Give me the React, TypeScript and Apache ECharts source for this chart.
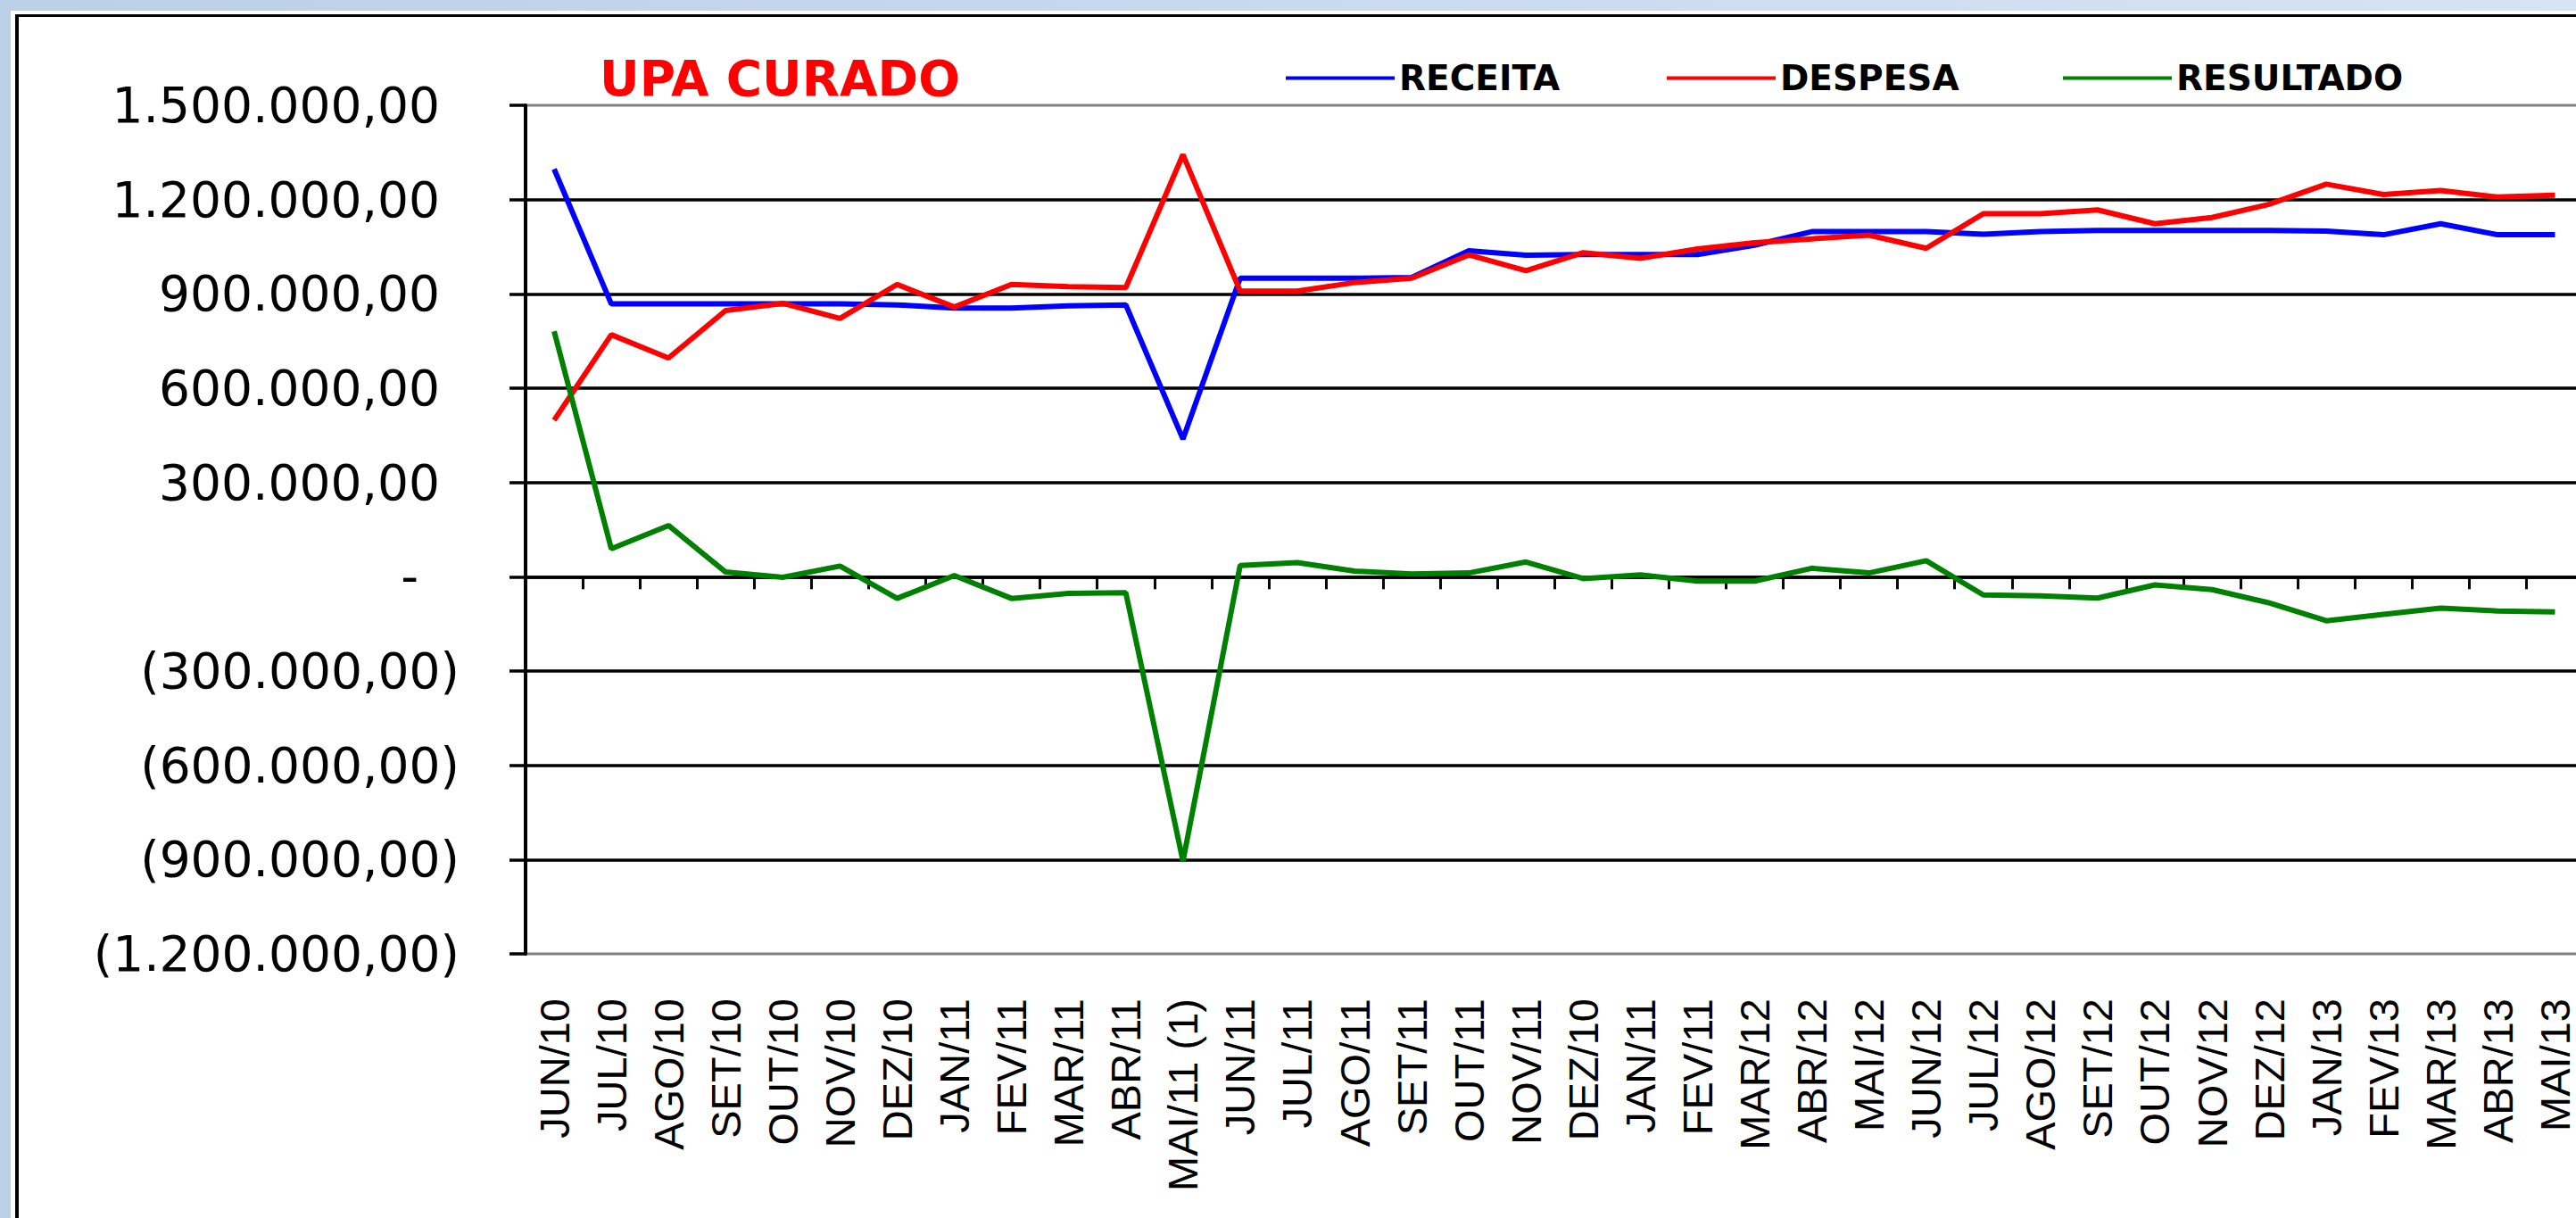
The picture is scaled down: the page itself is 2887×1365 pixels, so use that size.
import React, { useEffect, useRef } from 'react';
import * as echarts from 'echarts';

const categories = [
  'JUN/10', 'JUL/10', 'AGO/10', 'SET/10', 'OUT/10', 'NOV/10', 'DEZ/10', 'JAN/11', 'FEV/11', 'MAR/11',
  'ABR/11', 'MAI/11 (1)', 'JUN/11', 'JUL/11', 'AGO/11', 'SET/11', 'OUT/11', 'NOV/11', 'DEZ/10', 'JAN/11',
  'FEV/11', 'MAR/12', 'ABR/12', 'MAI/12', 'JUN/12', 'JUL/12', 'AGO/12', 'SET/12', 'OUT/12', 'NOV/12',
  'DEZ/12', 'JAN/13', 'FEV/13', 'MAR/13', 'ABR/13', 'MAI/13',
];

const receita = [
  1297000, 868000, 868000, 868000, 868000, 868000, 865000, 855000, 855000, 862000,
  865000, 438000, 950000, 950000, 950000, 952000, 1037000, 1023000, 1025000, 1025000,
  1025000, 1055000, 1098000, 1098000, 1098000, 1090000, 1098000, 1102000, 1102000, 1102000,
  1102000, 1100000, 1088000, 1123000, 1088000, 1088000,
];

const despesa = [
  498000, 770000, 696000, 847000, 870000, 822000, 930000, 858000, 930000, 923000,
  920000, 1343000, 909000, 909000, 936000, 950000, 1024000, 974000, 1031000, 1013000,
  1043000, 1063000, 1075000, 1087000, 1045000, 1155000, 1155000, 1167000, 1123000, 1143000,
  1185000, 1249000, 1216000, 1229000, 1208000, 1214000,
];

const resultado = [
  781000, 89000, 163000, 15000, -2000, 34000, -69000, 4000, -69000, -53000,
  -51000, -905000, 36000, 45000, 18000, 9000, 12000, 47000, -6000, 6000,
  -14000, -14000, 27000, 12000, 51000, -58000, -61000, -68000, -26000, -41000,
  -83000, -140000, -120000, -100000, -109000, -112000,
];

const yMin = -1200000;
const yMax = 1500000;
const yInterval = 300000;

const chartTitle = 'UPA CURADO';
const seriesNames = ['RECEITA', 'DESPESA', 'RESULTADO'];
const seriesColors = ['#0000ff', '#ff0000', '#008000'];
const seriesData = [receita, despesa, resultado];
const legendLefts = [1441, 1868, 2312];

function formatValue(v: number): string {
  if (v === 0) return '{z|-}';
  const a = Math.round(Math.abs(v));
  const s = a.toString().replace(/\B(?=(\d{3})+(?!\d))/g, '.') + ',00';
  return v < 0 ? `{n|(${s})}` : `{p|${s}}`;
}

export default function App() {
  const ref = useRef<HTMLDivElement>(null);

  useEffect(() => {
    if (!ref.current) return;
    const chart = echarts.init(ref.current, undefined, { renderer: 'svg' });
    const yFont = { fontFamily: 'DejaVu Sans', fontSize: 55, color: '#000000' };
    chart.setOption({
      animation: false,
      backgroundColor: 'transparent',
      title: {
        text: chartTitle,
        left: 672,
        top: 60,
        padding: 0,
        textStyle: {
          color: '#ff0000',
          fontFamily: 'DejaVu Sans',
          fontWeight: 'bold',
          fontSize: 55,
        },
      },
      legend: seriesNames.map((name, i) => ({
        data: [name],
        left: legendLefts[i],
        top: 68,
        padding: 0,
        icon: 'rect',
        itemWidth: 122,
        itemHeight: 4,
        textStyle: {
          fontFamily: 'DejaVu Sans',
          fontWeight: 'bold',
          fontSize: 39,
          color: '#000000',
        },
      })),
      grid: {
        left: 589,
        top: 118,
        width: 2306.5,
        height: 951,
        show: true,
        borderColor: '#808080',
        borderWidth: 3,
        backgroundColor: 'transparent',
      },
      xAxis: [
        {
          type: 'category',
          data: categories,
          position: 'bottom',
          boundaryGap: true,
          axisLine: { show: false, onZero: false },
          axisTick: { show: false },
          splitLine: { show: false },
          axisLabel: {
            interval: 0,
            rotate: 90,
            margin: 50,
            fontFamily: 'Liberation Sans',
            fontSize: 47,
            color: '#000000',
          },
        },
        {
          type: 'category',
          data: categories,
          position: 'bottom',
          boundaryGap: true,
          axisLine: { show: true, onZero: true, lineStyle: { color: '#000000', width: 3.5 } },
          axisTick: { show: true, interval: 0, inside: false, length: 14, lineStyle: { color: '#000000', width: 3 } },
          axisLabel: { show: false },
          splitLine: { show: false },
        },
      ],
      yAxis: {
        type: 'value',
        min: yMin,
        max: yMax,
        interval: yInterval,
        axisLine: { show: true, lineStyle: { color: '#000000', width: 4 } },
        axisTick: { show: true, inside: false, length: 18, lineStyle: { color: '#000000', width: 3.5 } },
        splitLine: {
          show: true,
          showMinLine: false,
          showMaxLine: false,
          lineStyle: { color: '#000000', width: 3.5 },
        },
        axisLabel: {
          margin: 74,
          formatter: formatValue,
          ...yFont,
          rich: {
            p: { ...yFont, padding: [0, 22, 0, 0] },
            n: { ...yFont },
            z: { ...yFont, padding: [0, 46, 0, 0] },
          },
        },
      },
      series: seriesNames.map((name, i) => ({
        name,
        type: 'line',
        xAxisIndex: 0,
        yAxisIndex: 0,
        data: seriesData[i],
        symbol: 'none',
        showSymbol: false,
        color: seriesColors[i],
        lineStyle: { color: seriesColors[i], width: 6 },
      })),
    });
    return () => chart.dispose();
  }, []);

  return (
    <div
      style={{
        position: 'fixed',
        left: 0,
        top: 0,
        width: '100vw',
        height: '100vh',
        overflow: 'hidden',
        background: 'linear-gradient(to right, #bccfe9, #d6e3f3)',
      }}
    >
      <div style={{ position: 'absolute', left: 12, top: 12, width: 3200, height: 1600, background: '#ffffff' }} />
      <div
        style={{
          position: 'absolute',
          left: 17,
          top: 16,
          width: 3200,
          height: 1600,
          background: '#ffffff',
          borderLeft: '4px solid #000000',
          borderTop: '3px solid #000000',
        }}
      />
      <div ref={ref} style={{ position: 'absolute', left: 0, top: 0, width: 3000, height: 1365 }} />
    </div>
  );
}
